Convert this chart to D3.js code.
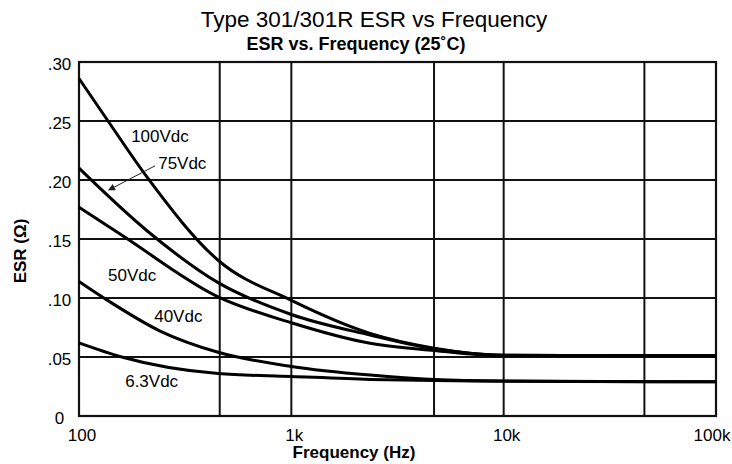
<!DOCTYPE html>
<html>
<head>
<meta charset="utf-8">
<script src="https://cdn.jsdelivr.net/npm/d3@7"></script>
<style>
  body { margin: 0; background: #fff; }
  svg { font-family: "Liberation Sans", Arial, Helvetica, sans-serif; }
</style>
</head>
<body>
<svg width="732" height="464"></svg>
<script>
// values (Hz, ohms)
var freqTicks = [100, 1000, 10000, 100000];
var freqTickLabels = ["100", "1k", "10k", "100k"];
var freqGrid = [460, 1000, 4700, 10000, 46000];
var esrTicks = [0, 0.05, 0.10, 0.15, 0.20, 0.25, 0.30];
var esrTickLabels = ["0", ".05", ".10", ".15", ".20", ".25", ".30"];

var f100V = [100, 137, 208, 452, 1000, 2350, 4700, 10000, 100000];
var esr100V = [0.286, 0.25, 0.203, 0.132, 0.098, 0.070, 0.0575, 0.0515, 0.051];

var f75V = [100, 209, 452, 1000, 2350, 4700, 10000, 100000];
var esr75V = [0.210, 0.157, 0.113, 0.086, 0.0686, 0.057, 0.0515, 0.051];

var f50V = [100, 160, 452, 1000, 2350, 4700, 10000, 100000];
var esr50V = [0.177, 0.153, 0.101, 0.079, 0.0616, 0.0555, 0.051, 0.051];

var f40V = [100, 131, 241, 452, 1000, 2350, 4700, 10000, 100000];
var esr40V = [0.114, 0.100, 0.072, 0.054, 0.042, 0.0347, 0.031, 0.0297, 0.029];

var f6V = [100, 159, 452, 1000, 2350, 4700, 10000, 100000];
var esr6V = [0.062, 0.050, 0.036, 0.0335, 0.031, 0.030, 0.0295, 0.029];

// curve labels: text, frequency and ESR of the text's left baseline
var labelText = ["100Vdc", "75Vdc", "50Vdc", "40Vdc", "6.3Vdc"];
var labelFreq = [176, 236, 137, 226, 165];
var labelEsr = [0.232, 0.209, 0.114, 0.080, 0.025];

// arrow from the 75Vdc label to its curve
var arrowFreq = [228, 138];
var arrowEsr = [0.212, 0.1915];

var svg = d3.select("svg");

var x = d3.scaleLog()
    .domain([100, 100000])
    .range([79, 716]);

var y = d3.scaleLinear()
    .domain([0, 0.30])
    .range([416, 62]);

// titles
svg.append("text")
    .attr("x", 374)
    .attr("y", 27)
    .attr("text-anchor", "middle")
    .attr("font-size", 22.5)
    .text("Type 301/301R ESR vs Frequency");

svg.append("text")
    .attr("x", 356)
    .attr("y", 50)
    .attr("text-anchor", "middle")
    .attr("font-size", 18)
    .attr("font-weight", "bold")
    .text("ESR vs. Frequency (25˚C)");

// grid
var grid = svg.append("g")
    .attr("stroke", "#111")
    .attr("stroke-width", 2);

grid.selectAll("line.h")
  .data(esrTicks.slice(1, -1))
  .enter().append("line")
    .attr("class", "h")
    .attr("x1", x.range()[0])
    .attr("x2", x.range()[1])
    .attr("y1", function(d) { return y(d); })
    .attr("y2", function(d) { return y(d); });

grid.selectAll("line.v")
  .data(freqGrid)
  .enter().append("line")
    .attr("class", "v")
    .attr("x1", function(d) { return x(d); })
    .attr("x2", function(d) { return x(d); })
    .attr("y1", y.range()[0])
    .attr("y2", y.range()[1]);

svg.append("rect")
    .attr("x", x.range()[0])
    .attr("y", y.range()[1])
    .attr("width", x.range()[1] - x.range()[0])
    .attr("height", y.range()[0] - y.range()[1])
    .attr("fill", "none")
    .attr("stroke", "#111")
    .attr("stroke-width", 2.2);

// tick labels
svg.append("g").selectAll("text")
  .data(esrTicks)
  .enter().append("text")
    .attr("x", 59.5)
    .attr("y", function(d) { return y(d) + 2; })
    .attr("text-anchor", "middle")
    .attr("dominant-baseline", "central")
    .attr("font-size", 17)
    .text(function(d, i) { return esrTickLabels[i]; });

svg.append("g").selectAll("text")
  .data(freqTicks)
  .enter().append("text")
    .attr("x", function(d) { return Math.min(x(d) + 3, 712); })
    .attr("y", 441)
    .attr("text-anchor", "middle")
    .attr("font-size", 17)
    .text(function(d, i) { return freqTickLabels[i]; });

// axis titles
svg.append("text")
    .attr("x", 354)
    .attr("y", 458)
    .attr("text-anchor", "middle")
    .attr("font-size", 17)
    .attr("font-weight", "bold")
    .text("Frequency (Hz)");

svg.append("text")
    .attr("transform", "translate(26,251) rotate(-90)")
    .attr("text-anchor", "middle")
    .attr("font-size", 17)
    .attr("font-weight", "bold")
    .text("ESR (Ω)");

// curves
var series = [
  [f100V, esr100V],
  [f75V, esr75V],
  [f50V, esr50V],
  [f40V, esr40V],
  [f6V, esr6V]
];

var line = d3.line()
    .x(function(d) { return x(d[0]); })
    .y(function(d) { return y(d[1]); })
    .curve(d3.curveMonotoneX);

svg.append("g").selectAll("path")
  .data(series)
  .enter().append("path")
    .attr("d", function(s) { return line(d3.zip(s[0], s[1])); })
    .attr("fill", "none")
    .attr("stroke", "#000")
    .attr("stroke-width", 3)
    .attr("stroke-linejoin", "round");

// labels
svg.append("g").selectAll("text")
  .data(labelText)
  .enter().append("text")
    .attr("x", function(d, i) { return x(labelFreq[i]); })
    .attr("y", function(d, i) { return y(labelEsr[i]); })
    .attr("font-size", 17)
    .text(function(d) { return d; });

// arrow
svg.append("defs").append("marker")
    .attr("id", "head")
    .attr("viewBox", "0 0 10 10")
    .attr("refX", 9)
    .attr("refY", 5)
    .attr("markerWidth", 9)
    .attr("markerHeight", 7)
    .attr("markerUnits", "userSpaceOnUse")
    .attr("orient", "auto")
  .append("path")
    .attr("d", "M0,0L10,5L0,10z")
    .attr("fill", "#222");

svg.append("line")
    .attr("x1", x(arrowFreq[0]))
    .attr("y1", y(arrowEsr[0]))
    .attr("x2", x(arrowFreq[1]))
    .attr("y2", y(arrowEsr[1]))
    .attr("stroke", "#222")
    .attr("stroke-width", 1)
    .attr("marker-end", "url(#head)");
</script>
</body>
</html>
